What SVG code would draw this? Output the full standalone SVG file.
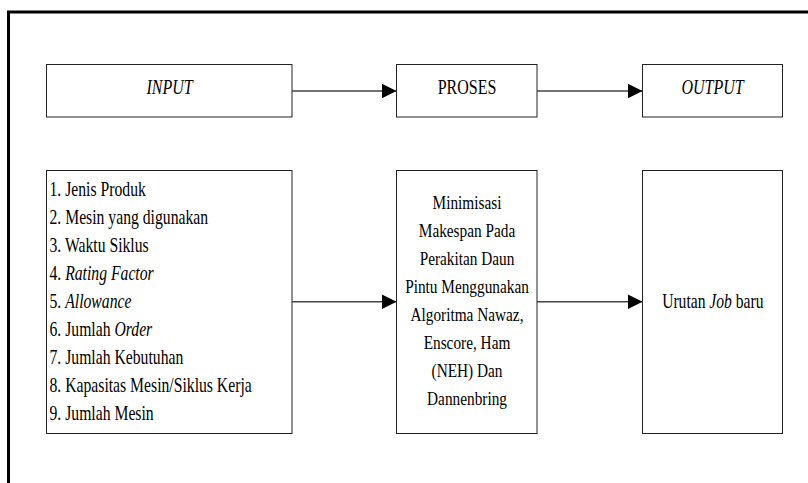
<svg xmlns="http://www.w3.org/2000/svg" width="808" height="483" viewBox="0 0 808 483">
<defs>
<style>
.frame{stroke:#000;stroke-width:3;fill:none}
.box{fill:#fff;stroke:#222;stroke-width:1}
.con{stroke:#444;stroke-width:1.5;fill:none}
text{font-family:"Liberation Serif","Times New Roman",serif;fill:#000}
.t20{font-size:20px}
.t19{font-size:19.5px}
.mid{text-anchor:middle}
.it{font-style:italic}
</style>
<marker id="ah" markerUnits="userSpaceOnUse" markerWidth="15" markerHeight="15" refX="15" refY="7.5" orient="auto">
<path d="M0,0 L15,7.5 L0,15 z" fill="#000"/>
</marker>
</defs>
<rect width="808" height="483" fill="#fff"/>
<path class="frame" d="M8.5,483 L8.5,12 L808,12"/>
<g id="input">
<rect class="box" x="46.5" y="64.5" width="245.5" height="52.5"/>
<text class="t20 mid it" transform="translate(169.5,94.3) scale(0.8,1)">INPUT</text>
</g>
<g id="proses">
<rect class="box" x="396.5" y="64.5" width="140.5" height="52.5"/>
<text class="t20 mid" transform="translate(467,94.3) scale(0.8,1)">PROSES</text>
</g>
<g id="output">
<rect class="box" x="642.5" y="64.5" width="140" height="52.5"/>
<text class="t20 mid it" transform="translate(712.5,94.3) scale(0.8,1)">OUTPUT</text>
</g>
<g id="input-list">
<rect class="box" x="46.5" y="170.5" width="245.5" height="263"/>
<g class="t20" transform="translate(49.5,0) scale(0.785,1)">
<text x="0" y="195.7">1. Jenis Produk</text>
<text x="0" y="223.7">2. Mesin yang digunakan</text>
<text x="0" y="251.7">3. Waktu Siklus</text>
<text x="0" y="279.7">4. <tspan class="it">Rating Factor</tspan></text>
<text x="0" y="307.7">5. <tspan class="it">Allowance</tspan></text>
<text x="0" y="335.7">6. Jumlah <tspan class="it">Order</tspan></text>
<text x="0" y="363.7">7. Jumlah Kebutuhan</text>
<text x="0" y="391.7">8. Kapasitas Mesin/Siklus Kerja</text>
<text x="0" y="419.7">9. Jumlah Mesin</text>
</g>
</g>
<g id="proses-detail">
<rect class="box" x="396.5" y="170.5" width="140.5" height="263"/>
<g class="t19 mid" transform="translate(467,0) scale(0.785,1)">
<text x="0" y="209.3">Minimisasi</text>
<text x="0" y="237.3">Makespan Pada</text>
<text x="0" y="265.3">Perakitan Daun</text>
<text x="0" y="293.3">Pintu Menggunakan</text>
<text x="0" y="321.3">Algoritma Nawaz,</text>
<text x="0" y="349.3">Enscore, Ham</text>
<text x="0" y="377.3">(NEH) Dan</text>
<text x="0" y="405.3">Dannenbring</text>
</g>
</g>
<g id="output-detail">
<rect class="box" x="642.5" y="170.5" width="140" height="263"/>
<text class="t20 mid" transform="translate(712.8,308.3) scale(0.78,1)">Urutan <tspan class="it">Job</tspan> baru</text>
</g>
<g id="connectors">
<line class="con" x1="292" y1="91" x2="396.5" y2="91" marker-end="url(#ah)"/>
<line class="con" x1="537" y1="91" x2="642.5" y2="91" marker-end="url(#ah)"/>
<line class="con" x1="292" y1="301.7" x2="396.5" y2="301.7" marker-end="url(#ah)"/>
<line class="con" x1="537" y1="301.7" x2="642.5" y2="301.7" marker-end="url(#ah)"/>
</g>
</svg>
